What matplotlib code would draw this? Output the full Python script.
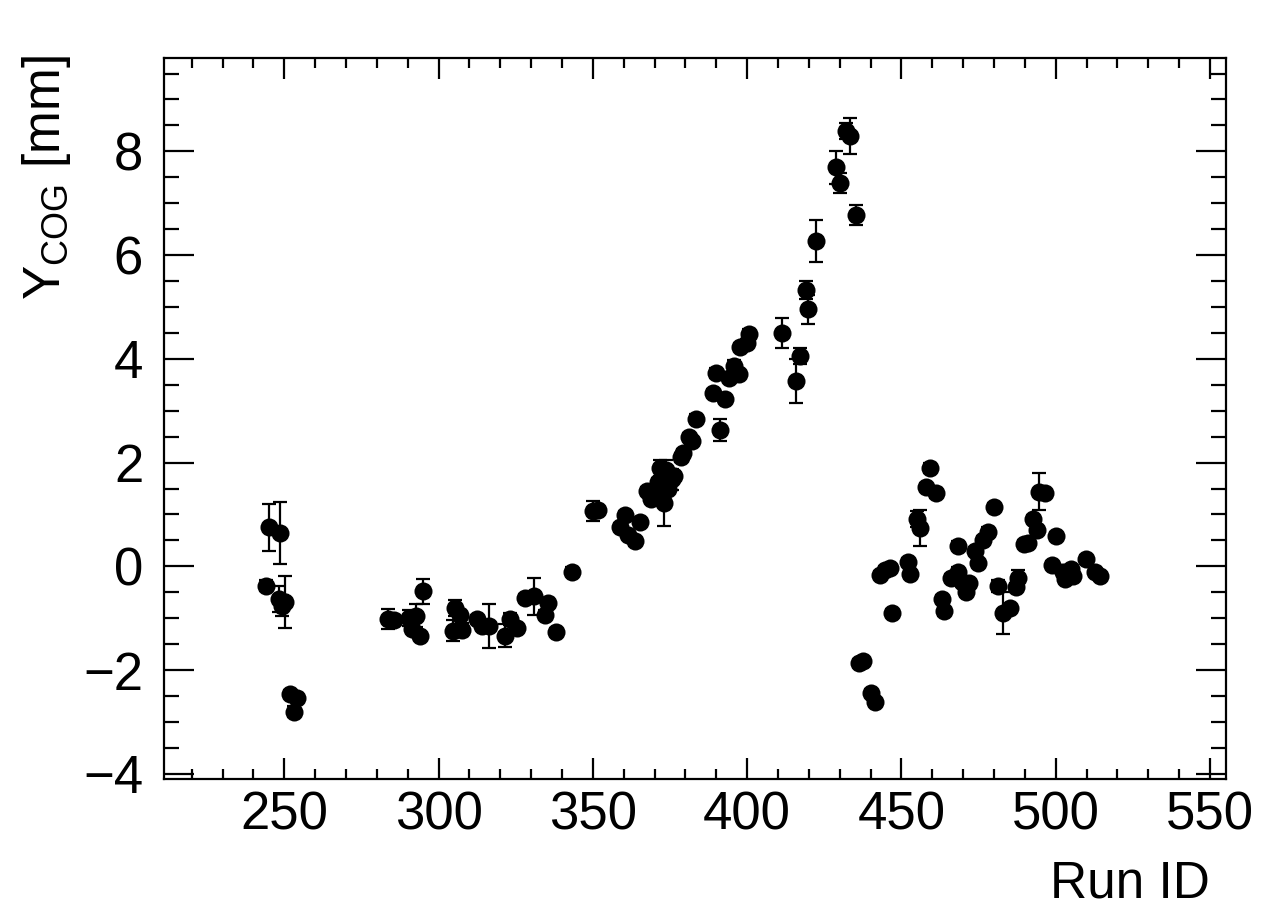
import matplotlib
matplotlib.use("Agg")
import matplotlib.pyplot as plt
from matplotlib.ticker import MultipleLocator
import numpy as np

plt.rcParams['font.family'] = ['Liberation Sans', 'DejaVu Sans']
plt.rcParams['mathtext.fontset'] = 'custom'
plt.rcParams['mathtext.rm'] = 'Liberation Sans'

run_id = [
    244.9, 248.7, 244.1, 248.2, 250.3, 249.4, 251.9, 254.1, 253.2,
    283.6, 285.5, 290.3, 292.8, 291.4, 294.1, 294.8,
    305.4, 307.0, 304.8, 307.5, 312.4, 314.0, 316.2, 323.2, 325.4, 321.6,
    328.1, 330.8, 335.6, 334.5, 338.1, 343.2,
    350.2, 351.7, 358.8, 360.5, 365.3, 361.5, 363.7,
    367.5, 368.8, 370.2, 371.2, 371.8, 372.9, 373.6, 374.3, 375.6, 376.2,
    378.5, 379.3, 381.0, 382.1, 383.3,
    391.1, 389.0, 392.8, 390.0, 394.0, 395.6, 397.2, 397.7, 400.7, 400.1,
    411.2, 417.1, 415.8, 419.0, 419.6, 422.3, 428.8, 430.1, 432.0, 433.4, 435.3,
    436.3, 437.5, 440.0, 441.3, 443.2, 444.6, 446.2, 446.9,
    452.0, 452.8, 455.2, 456.0, 459.3, 458.0, 461.2, 463.0, 463.7,
    466.1, 468.3, 468.2, 469.5, 470.9, 472.0, 473.8, 474.8, 476.4, 478.0, 480.0,
    481.3, 482.9, 485.2, 487.1, 487.8, 489.7, 491.0, 492.6, 493.9, 494.6, 496.5,
    498.7, 500.1, 502.4, 503.0, 505.1, 505.7, 509.8, 512.7, 514.3,
]
y_cog = [
    0.75, 0.64, -0.37, -0.63, -0.69, -0.76, -2.46, -2.53, -2.80,
    -1.02, -1.04, -1.00, -0.95, -1.21, -1.34, -0.48,
    -0.80, -0.93, -1.24, -1.22, -1.02, -1.15, -1.15, -1.02, -1.19, -1.34,
    -0.61, -0.58, -0.71, -0.93, -1.26, -0.10,
    1.06, 1.09, 0.76, 0.99, 0.85, 0.61, 0.48,
    1.45, 1.30, 1.38, 1.62, 1.90, 1.22, 1.85, 1.50, 1.68, 1.75,
    2.10, 2.18, 2.50, 2.42, 2.85,
    2.63, 3.34, 3.23, 3.73, 3.63, 3.87, 3.71, 4.23, 4.47, 4.31,
    4.50, 4.06, 3.57, 5.33, 4.96, 6.27, 7.69, 7.39, 8.39, 8.30, 6.77,
    -1.87, -1.83, -2.44, -2.61, -0.17, -0.08, -0.04, -0.90,
    0.09, -0.14, 0.91, 0.74, 1.90, 1.53, 1.41, -0.63, -0.87,
    -0.22, 0.40, -0.10, -0.30, -0.49, -0.33, 0.30, 0.07, 0.51, 0.67, 1.14,
    -0.38, -0.90, -0.80, -0.40, -0.23, 0.43, 0.45, 0.91, 0.71, 1.44, 1.41,
    0.03, 0.59, -0.10, -0.24, -0.06, -0.19, 0.14, -0.10, -0.18,
]
y_err = [
    0.46, 0.60, 0.10, 0.26, 0.50, 0.20, 0.08, 0.08, 0.10,
    0.19, 0.10, 0.15, 0.22, 0.08, 0.08, 0.24,
    0.15, 0.08, 0.20, 0.12, 0.08, 0.08, 0.43, 0.12, 0.08, 0.22,
    0.08, 0.35, 0.10, 0.08, 0.08, 0.08,
    0.19, 0.08, 0.08, 0.08, 0.08, 0.08, 0.08,
    0.08, 0.08, 0.08, 0.08, 0.15, 0.45, 0.20, 0.08, 0.20, 0.08,
    0.08, 0.08, 0.08, 0.08, 0.08,
    0.21, 0.08, 0.08, 0.10, 0.08, 0.10, 0.08, 0.08, 0.10, 0.08,
    0.29, 0.15, 0.42, 0.18, 0.28, 0.41, 0.31, 0.19, 0.15, 0.35, 0.19,
    0.08, 0.08, 0.08, 0.08, 0.08, 0.08, 0.08, 0.08,
    0.08, 0.08, 0.15, 0.35, 0.10, 0.08, 0.10, 0.08, 0.08,
    0.08, 0.08, 0.08, 0.08, 0.08, 0.08, 0.08, 0.08, 0.08, 0.08, 0.08,
    0.12, 0.40, 0.08, 0.08, 0.15, 0.08, 0.08, 0.08, 0.08, 0.36, 0.08,
    0.08, 0.08, 0.08, 0.08, 0.08, 0.08, 0.08, 0.08, 0.08,
]

x_ticks = [250, 300, 350, 400, 450, 500, 550]
y_ticks = [-4, -2, 0, 2, 4, 6, 8]
y_tick_labels = ['\u22124', '\u22122', '0', '2', '4', '6', '8']

W, H = 1288, 914
fig = plt.figure(figsize=(W / 100, H / 100), dpi=100)
ax = fig.add_axes([164 / W, 1 - 779 / H, (1226 - 164) / W, (779 - 58) / H])

ax.errorbar(run_id, y_cog, yerr=y_err, fmt='none', ecolor='black',
            elinewidth=1.6, capsize=4.7, capthick=1.6, zorder=3)
ax.plot(run_id, y_cog, 'o', color='black', ms=13, mew=0, zorder=4)

ax.set_xlim(211.0, 555.2)
ax.set_ylim(-4.10, 9.80)
ax.set_xticks(x_ticks)
ax.set_yticks(y_ticks)
ax.xaxis.set_minor_locator(MultipleLocator(10))
ax.yaxis.set_minor_locator(MultipleLocator(0.5))
ax.set_yticklabels(y_tick_labels)

for s in ax.spines.values():
    s.set_linewidth(1.6)
ax.tick_params(axis='both', which='both', direction='in', top=True, right=True,
               width=1.6, labelsize=38)
ax.tick_params(axis='x', which='major', length=15, pad=8)
ax.tick_params(axis='x', which='minor', length=7.5)
ax.tick_params(axis='y', which='major', length=21.5, pad=15)
ax.tick_params(axis='y', which='minor', length=10.8)

fig.text(1210 / W, 1 - 897 / H, 'Run ID', ha='right', va='baseline', fontsize=37)
fig.text(60 / W, 1 - 55 / H, r'$\mathregular{Y_{COG}}$ [mm]', ha='right', va='baseline',
         rotation=90, rotation_mode='anchor', fontsize=37)

fig.savefig('out.png', dpi=100)
